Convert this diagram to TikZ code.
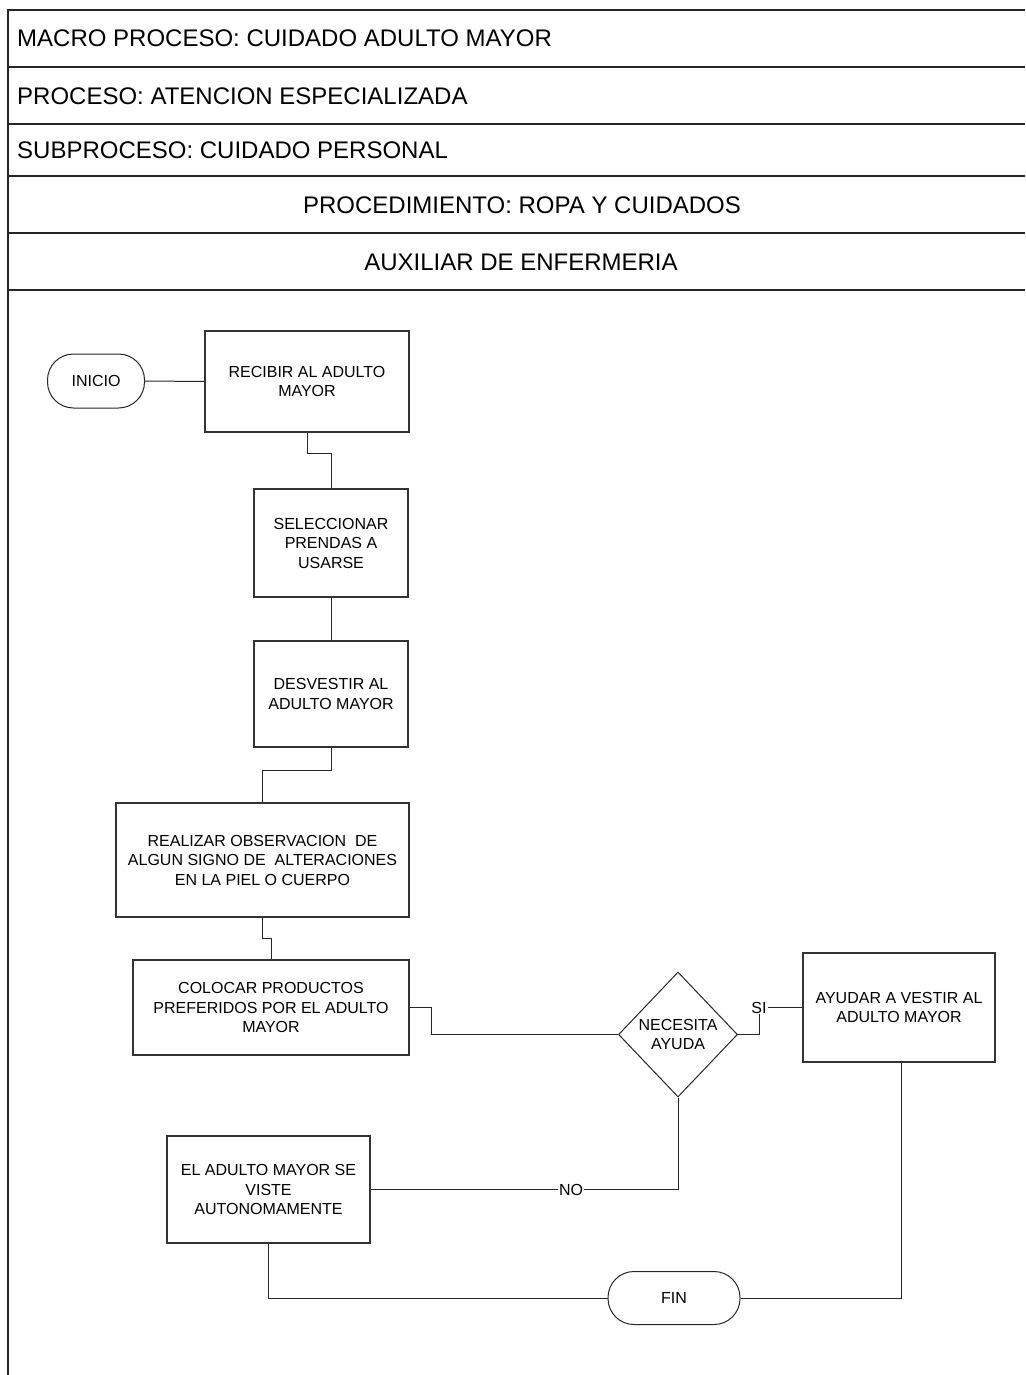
\documentclass[tikz,border=0pt]{standalone}
\usepackage{fontspec}
\setmainfont{Liberation Sans}
\usetikzlibrary{shapes.geometric}

\begin{document}
\begin{tikzpicture}[x=1pt,y=-1pt,
  frame/.style={line width=1.6pt, draw=black!85},
  headtxt/.style={font=\fontsize{24}{28}\selectfont, inner sep=0pt},
  stepbox/.style={draw=black!80, line width=1.1pt, inner sep=0pt, align=center,
    font=\fontsize{16}{19.5}\selectfont},
  terminal/.style={draw=black!85, line width=1pt, rounded corners=26pt, inner sep=0pt,
    font=\fontsize{16}{19.5}\selectfont},
  decision/.style={diamond, draw=black!85, line width=1pt, inner sep=0pt, align=center,
    font=\fontsize{16}{19.5}\selectfont},
  link/.style={draw=black!85, line width=1pt},
  lbl/.style={fill=white, inner sep=1pt, font=\fontsize{16}{19}\selectfont}
]
\useasboundingbox (0,0) rectangle (1025,1375);

% header frame
\draw[frame] (8,1375) -- (8,10) -- (1025,10);
\foreach \yy in {67,124,176,233,290}
  \draw[frame] (8,\yy) -- (1025,\yy);

\node[headtxt, anchor=base west] (hmacro) at (17,46.7) {MACRO PROCESO: CUIDADO ADULTO MAYOR};
\node[headtxt, anchor=base west] (hproc) at (17,105) {PROCESO: ATENCION ESPECIALIZADA};
\node[headtxt, anchor=base west] (hsub) at (17,158.3) {SUBPROCESO: CUIDADO PERSONAL};
\node[headtxt, anchor=base] (hproced) at (522,213.3) {PROCEDIMIENTO: ROPA Y CUIDADOS};
\node[headtxt, anchor=base] (hrole) at (521,270) {AUXILIAR DE ENFERMERIA};

% flow steps
\node[terminal, minimum width=97pt, minimum height=54pt] (inicio) at (96,381) {INICIO};
\node[stepbox, minimum width=204pt, minimum height=101pt] (recibir) at (307,381.5)
  {RECIBIR AL ADULTO\\MAYOR};
\node[stepbox, minimum width=154pt, minimum height=108pt] (selec) at (331,543)
  {SELECCIONAR\\PRENDAS A\\USARSE};
\node[stepbox, minimum width=154pt, minimum height=106pt] (desv) at (331,694)
  {DESVESTIR AL\\ADULTO MAYOR};
\node[stepbox, minimum width=293pt, minimum height=114pt] (realizar) at (262.5,860)
  {REALIZAR OBSERVACION\ \ DE\\ALGUN SIGNO DE\ \ ALTERACIONES\\EN LA PIEL O CUERPO};
\node[stepbox, minimum width=276pt, minimum height=95pt] (colocar) at (271,1007.5)
  {COLOCAR PRODUCTOS\\PREFERIDOS POR EL ADULTO\\MAYOR};
\node[decision, minimum width=119pt, minimum height=125pt] (dec) at (678,1034.5)
  {NECESITA\\AYUDA};
\node[stepbox, minimum width=192pt, minimum height=109pt] (ayudar) at (899,1007.5)
  {AYUDAR A VESTIR AL\\ADULTO MAYOR};
\node[stepbox, minimum width=203pt, minimum height=107pt] (autonomo) at (268.5,1189.5)
  {EL ADULTO MAYOR SE\\VISTE\\AUTONOMAMENTE};
\node[terminal, minimum width=132pt, minimum height=53pt] (fin) at (674,1298) {FIN};

% connectors
\draw[link] (inicio.east) -- (recibir.west);
\draw[link] (recibir.south) -- ++(0,21) -| (selec.north);
\draw[link] (selec.south) -- (desv.north);
\draw[link] (desv.south) -- ++(0,23) -| (realizar.north);
\draw[link] (realizar.south) -- ++(0,21) -| (colocar.north);
\draw[link] (colocar.east) -- ++(22,0) |- (dec.west);
\draw[link] (dec.east) -- ++(21,0) |- node[lbl, pos=0.5] {SI} (ayudar.west);
\draw[link] (dec.south) |- node[lbl, pos=0.674] {NO} (autonomo.east);
\draw[link] (autonomo.south) |- (fin.west);
\draw[link] ([xshift=2pt]ayudar.south) |- (fin.east);
\end{tikzpicture}
\end{document}
